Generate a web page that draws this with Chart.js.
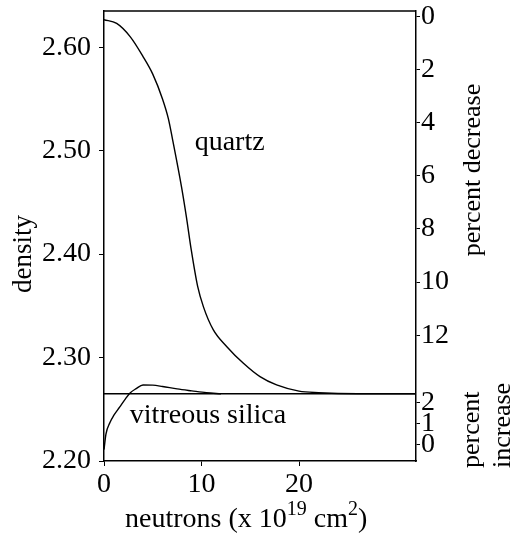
<!DOCTYPE html>
<html>
<head>
<meta charset="utf-8">
<script src="https://cdn.jsdelivr.net/npm/chart.js@4/dist/chart.umd.min.js"></script>
<style>
  body { margin: 0; background: #fff; }
  #wrap { width: 513px; height: 538px; }
</style>
</head>
<body>
<div id="wrap"><canvas id="densityChart" width="513" height="538"></canvas></div>
<script>
// neutron dose (x 10^19 cm^-2) and density
const quartzDose = [0, 1.3, 2.7, 4, 5, 6, 6.6, 7.05, 7.95, 8.45, 8.95, 9.6, 10.2, 11.2, 12.6, 14.3, 16, 17.7, 20, 22, 26, 32];
const quartzDensity = [2.6265, 2.623, 2.610, 2.591, 2.574, 2.550, 2.531, 2.510, 2.465, 2.436, 2.404, 2.369, 2.349, 2.327, 2.3105, 2.2944, 2.2815, 2.2735, 2.2675, 2.266, 2.265, 2.265];

const silicaDose = [0, 0.2, 0.6, 1, 1.6, 2.2, 2.7, 3.3, 4, 5, 6, 7.5, 9, 10.5, 12];
const silicaDensity = [2.211, 2.226, 2.237, 2.244, 2.252, 2.260, 2.266, 2.270, 2.2735, 2.2733, 2.272, 2.2697, 2.2678, 2.266, 2.265];

// common end level (horizontal line)
const finalDose = [0, 32];
const finalDensity = [2.265, 2.265];

// axes
const densityTicks = [2.20, 2.30, 2.40, 2.50, 2.60];
const doseTicks = [0, 10, 20];
const decreaseTicks = [0, 2, 4, 6, 8, 10, 12];
const increaseTicks = [0, 1, 2];
const QUARTZ_REF = 2.630;   // density at 0 % decrease
const DEC_UNIT = 0.0257;    // density per percent on the right scale
const SILICA_REF = 2.2155;  // density at 0 % increase
const INC_UNIT = 0.0205;

const serif = "'Liberation Serif', 'DejaVu Serif', serif";

function pts(xs, ys) {
    return xs.map((x, i) => ({ x: x, y: ys[i] }));
}

// right-hand ticks, expressed on the density scale
const rightValues = [];
const rightLabels = [];
decreaseTicks.forEach(p => { rightValues.push(QUARTZ_REF - p * DEC_UNIT); rightLabels.push(String(p)); });
increaseTicks.forEach(p => { rightValues.push(SILICA_REF + p * INC_UNIT); rightLabels.push(String(p)); });

const textPlugin = {
    id: 'figureText',
    afterDraw(chart) {
        const ctx = chart.ctx;
        const xs = chart.scales.x, ys = chart.scales.y;
        const area = chart.chartArea;
        ctx.save();
        ctx.fillStyle = '#000';
        ctx.strokeStyle = '#000';

        // top frame line
        ctx.lineWidth = 1.5;
        ctx.beginPath();
        ctx.moveTo(area.left, area.top);
        ctx.lineTo(area.right, area.top);
        ctx.stroke();

        // curve labels
        ctx.font = '28px ' + serif;
        ctx.textAlign = 'left';
        ctx.textBaseline = 'alphabetic';
        ctx.fillText('quartz', xs.getPixelForValue(9.3), ys.getPixelForValue(2.501));
        ctx.fillText('vitreous silica', xs.getPixelForValue(2.65), ys.getPixelForValue(2.2367));

        // x title with superscripts
        let x = 125;
        const base = 527;
        const parts = [['neutrons (x 10', 28, 0], ['19', 20, 12], [' cm', 28, 0], ['2', 20, 12], [')', 28, 0]];
        parts.forEach(p => {
            ctx.font = p[1] + 'px ' + serif;
            ctx.fillText(p[0], x, base - p[2]);
            x += ctx.measureText(p[0]).width;
        });

        // rotated titles
        function vtext(str, cx, cy, size, align) {
            ctx.save();
            ctx.translate(cx, cy);
            ctx.rotate(-Math.PI / 2);
            ctx.font = size + 'px ' + serif;
            ctx.textAlign = align;
            ctx.textBaseline = 'middle';
            ctx.fillText(str, 0, 0);
            ctx.restore();
        }
        vtext('density', 24, 254, 27, 'center');
        vtext('percent decrease', 473, 170, 26, 'center');
        vtext('percent', 472, 468, 26, 'left');
        vtext('increase', 503, 468, 26, 'left');
        ctx.restore();
    }
};

const ctx = document.getElementById('densityChart').getContext('2d');
const lineStyle = {
    borderColor: '#000',
    borderWidth: 1.4,
    pointRadius: 0,
    fill: false,
    cubicInterpolationMode: 'monotone'
};

new Chart(ctx, {
    type: 'line',
    data: {
        datasets: [
            Object.assign({ label: 'quartz', data: pts(quartzDose, quartzDensity) }, lineStyle),
            Object.assign({ label: 'vitreous silica', data: pts(silicaDose, silicaDensity) }, lineStyle),
            Object.assign({ label: 'final', data: pts(finalDose, finalDensity) }, lineStyle, { borderWidth: 1.3 })
        ]
    },
    options: {
        responsive: false,
        animation: false,
        layout: { padding: { top: 11, left: 0, right: 0, bottom: 0 } },
        plugins: {
            legend: { display: false },
            tooltip: { enabled: false }
        },
        scales: {
            x: {
                type: 'linear',
                min: 0,
                max: 32,
                afterBuildTicks: (axis) => { axis.ticks = doseTicks.map(v => ({ value: v })); },
                afterFit: (axis) => { axis.height = 77; axis.paddingLeft = 0; axis.paddingRight = 0; },
                border: { display: true, color: '#000', width: 1.5 },
                grid: { drawOnChartArea: false, drawTicks: true, tickLength: 5, color: '#000' },
                ticks: {
                    color: '#000',
                    padding: 2,
                    maxRotation: 0,
                    font: { family: serif, size: 28 }
                }
            },
            y: {
                position: 'left',
                min: 2.20,
                max: 2.635,
                afterBuildTicks: (axis) => { axis.ticks = densityTicks.map(v => ({ value: v })); },
                afterFit: (axis) => { axis.width = 104; axis.paddingTop = 0; axis.paddingBottom = 0; },
                border: { display: true, color: '#000', width: 1.5 },
                grid: { drawOnChartArea: false, drawTicks: true, tickLength: 5, color: '#000' },
                ticks: {
                    color: '#000',
                    padding: 8,
                    font: { family: serif, size: 28 },
                    callback: (v) => Number(v).toFixed(2)
                }
            },
            y2: {
                position: 'right',
                min: 2.20,
                max: 2.635,
                afterBuildTicks: (axis) => { axis.ticks = rightValues.map(v => ({ value: v })); },
                afterFit: (axis) => { axis.width = 97; axis.paddingTop = 0; axis.paddingBottom = 0; },
                border: { display: true, color: '#000', width: 1.5 },
                grid: { drawOnChartArea: false, drawTicks: true, tickLength: 4, color: '#000' },
                ticks: {
                    color: '#000',
                    padding: 1,
                    autoSkip: false,
                    font: { family: serif, size: 28 },
                    callback: (v, i) => rightLabels[i]
                }
            }
        }
    },
    plugins: [textPlugin]
});
</script>
</body>
</html>
